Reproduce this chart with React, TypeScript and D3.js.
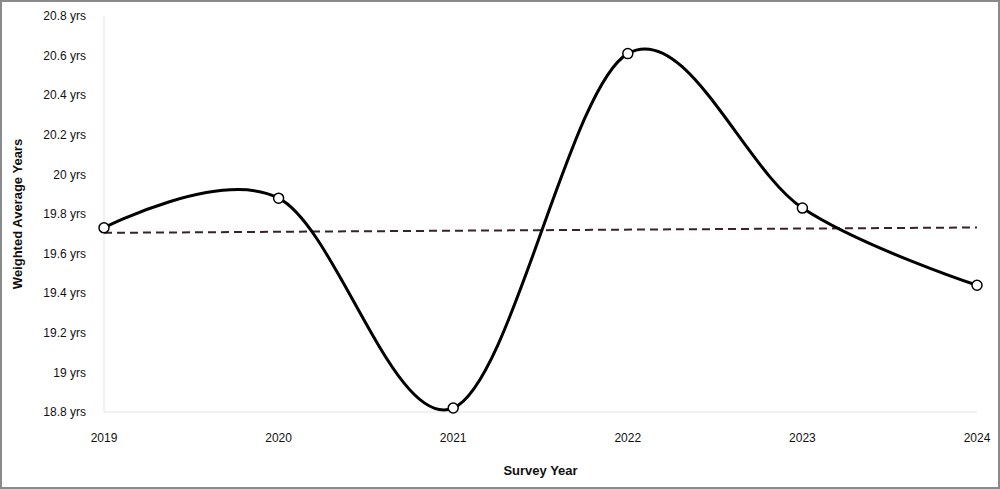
import * as d3 from "d3";

const years = [2019, 2020, 2021, 2022, 2023, 2024];
const values = [19.73, 19.88, 18.82, 20.61, 19.83, 19.44];
const yTicks = [18.8, 19, 19.2, 19.4, 19.6, 19.8, 20, 20.2, 20.4, 20.6, 20.8];

const width = 1000;
const height = 489;
const margin = { top: 16, right: 23, bottom: 77, left: 104 };

const fmt = (v: number) => `${Number(v.toFixed(1))} yrs`;

// least squares trend, like the spreadsheet's linear trendline
function trend(xs: number[], ys: number[]) {
  const mx = d3.mean(xs) as number;
  const my = d3.mean(ys) as number;
  const sxy = d3.sum(xs, (x, i) => (x - mx) * (ys[i] - my));
  const sxx = d3.sum(xs, (x) => (x - mx) * (x - mx));
  const slope = sxy / sxx;
  return (x: number) => my + slope * (x - mx);
}

export default function App() {
  const x = d3.scaleLinear().domain([2019, 2024]).range([margin.left, width - margin.right]);
  const y = d3.scaleLinear().domain([18.8, 20.8]).range([height - margin.bottom, margin.top]);

  const pts = years.map((yr, i) => [yr, values[i]] as [number, number]);
  const line = d3
    .line<[number, number]>()
    .x((d) => x(d[0]))
    .y((d) => y(d[1]))
    .curve(d3.curveCatmullRom.alpha(0));

  const t = trend(years, values);
  const font = "'Liberation Sans', Arial, Helvetica, sans-serif";

  return (
    <svg width={width} height={height} style={{ position: "absolute", left: 0, top: 0 }} fontFamily={font}>
      <rect x={1} y={1} width={width - 2} height={height - 2} fill="#fff" stroke="#8a8a8a" strokeWidth={2} />

      {/* axis lines */}
      <line x1={x(2019)} x2={x(2019)} y1={y(20.8)} y2={y(18.8)} stroke="#e3e3e3" strokeWidth={1} />
      <line x1={x(2019)} x2={x(2024)} y1={y(18.8)} y2={y(18.8)} stroke="#e3e3e3" strokeWidth={1} />

      {yTicks.map((v) => (
        <text key={v} x={86} y={y(v)} dy="0.35em" textAnchor="end" fontSize={12} fill="#111">
          {fmt(v)}
        </text>
      ))}
      {years.map((yr) => (
        <text key={yr} x={x(yr)} y={442} textAnchor="middle" fontSize={12} fill="#111">
          {yr}
        </text>
      ))}

      <text x={(x(2019) + x(2024)) / 2} y={475} textAnchor="middle" fontSize={13} fontWeight="bold" fill="#111">
        Survey Year
      </text>
      <text
        transform={`translate(22,${(y(20.8) + y(18.8)) / 2}) rotate(-90)`}
        textAnchor="middle"
        fontSize={13}
        fontWeight="bold"
        fill="#111"
      >
        Weighted Average Years
      </text>

      {/* trendline */}
      <line
        x1={x(2019)}
        x2={x(2024)}
        y1={y(t(2019))}
        y2={y(t(2024))}
        stroke="#3a2228"
        strokeWidth={2}
        strokeDasharray="8,5"
      />

      <path d={line(pts) as string} fill="none" stroke="#000" strokeWidth={3} />

      {pts.map((d) => (
        <circle key={d[0]} cx={x(d[0])} cy={y(d[1])} r={5} fill="#fff" stroke="#000" strokeWidth={1.5} />
      ))}
    </svg>
  );
}
